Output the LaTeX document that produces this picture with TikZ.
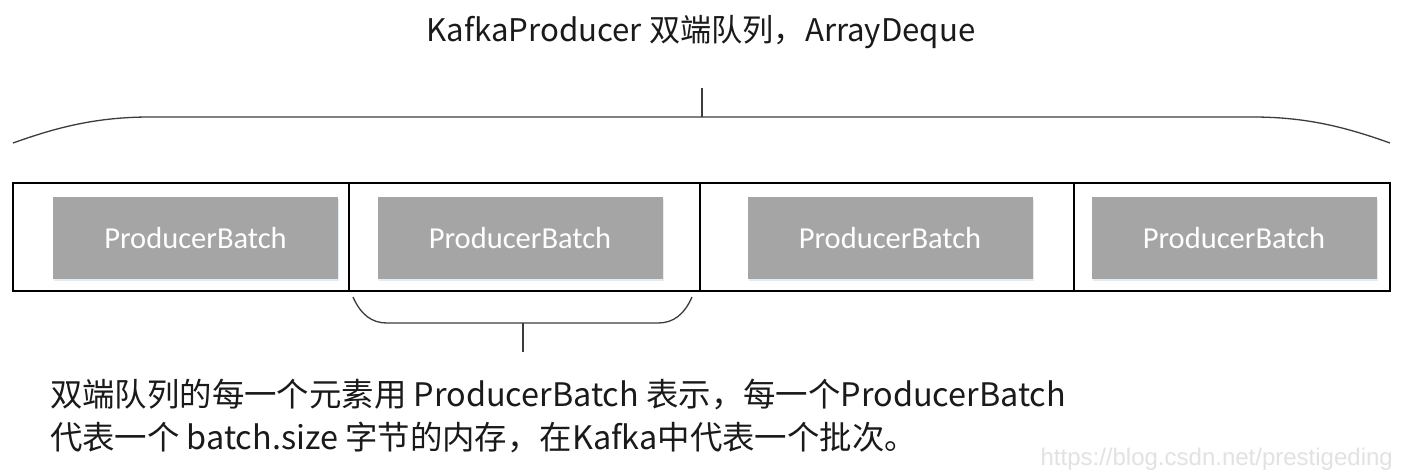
\documentclass[tikz,border=0pt]{standalone}
\usepackage{fontspec}
\setmainfont{Noto Sans CJK SC}
\newfontfamily\cjk{Noto Sans CJK SC}
\newfontfamily\calib{Carlito}
\newfontfamily\wmfont{Liberation Sans}
\definecolor{batchgray}{HTML}{A5A5A5}
\definecolor{bracegray}{HTML}{3C3C3C}
\definecolor{shadowblue}{HTML}{E3EBF4}
\definecolor{wmgray}{HTML}{E2E2E2}
\definecolor{textblack}{HTML}{1A1A1A}
\begin{document}
\begin{tikzpicture}[x=1pt,y=-1pt,
  cell/.style={draw=black, line width=1.4pt, minimum height=108pt, inner sep=0pt, outer sep=0pt},
  batch/.style={fill=batchgray, text=white, minimum width=285pt, minimum height=82pt, inner sep=0pt, outer sep=0pt,
    font=\calib\fontsize{30.5pt}{36pt}\selectfont},
  shade/.style={fill=shadowblue, minimum width=285pt, minimum height=82pt, inner sep=0pt, outer sep=0pt},
  bracepath/.style={draw=bracegray, line width=1.3pt},
  caption/.style={text=textblack, inner sep=0pt, outer sep=0pt},
]
\useasboundingbox (0,0) rectangle (1404,474);
\fill[white] (0,0) rectangle (1404,474);

% title
\node[caption, anchor=base, font=\cjk\fontsize{31.2pt}{37pt}\selectfont] (title) at (701,41) {KafkaProducer 双端队列，ArrayDeque};

% top brace
\coordinate (tl) at (13,143);
\coordinate (tr) at (1390,143);
\coordinate (ttip) at (702,88);
\coordinate (tmid) at (702,117);
\draw[bracepath] (tl) .. controls (55,128) and (95,117) .. (150,117) -- (1253,117) .. controls (1308,117) and (1348,128) .. (tr);
\draw[bracepath] (tmid) -- (ttip);

% cells
\node[cell, minimum width=336pt] (c1) at (181,237) {};
\node[cell, minimum width=351pt] (c2) at (524.5,237) {};
\node[cell, minimum width=374pt] (c3) at (887,237) {};
\node[cell, minimum width=316pt] (c4) at (1232,237) {};

% shadows
\node[shade] at (196.5,240) {};
\node[shade] at (521,240) {};
\node[shade] at (891,240) {};
\node[shade] at (1235,240) {};

% batches
\node[batch] (b1) at (195.5,238) {ProducerBatch};
\node[batch] (b2) at (520,238) {ProducerBatch};
\node[batch] (b3) at (890,238) {ProducerBatch};
\node[batch] (b4) at (1234,238) {ProducerBatch};

% bottom brace
\coordinate (bl) at (353,297);
\coordinate (br) at (692,297);
\coordinate (bmid) at (523,323);
\coordinate (btip) at (523,352);
\draw[bracepath] (bl) .. controls (361,315) and (372,323) .. (387,323) -- (658,323) .. controls (673,323) and (684,315) .. (br);
\draw[bracepath] (bmid) -- (btip);

% description
\node[caption, anchor=base west, font=\cjk\fontsize{32.4pt}{40pt}\selectfont] (d1) at (50,406) {双端队列的每一个元素用 ProducerBatch 表示，每一个ProducerBatch};
\node[caption, anchor=base west, font=\cjk\fontsize{32.4pt}{40pt}\selectfont] (d2) at (50,449) {代表一个 batch.size 字节的内存，在Kafka中代表一个批次。};

% watermark
\node[anchor=base east, inner sep=0pt, text=wmgray, font=\wmfont\fontsize{24pt}{28pt}\selectfont] (wm) at (1393,465) {https://blog.csdn.net/prestigeding};
\end{tikzpicture}
\end{document}
